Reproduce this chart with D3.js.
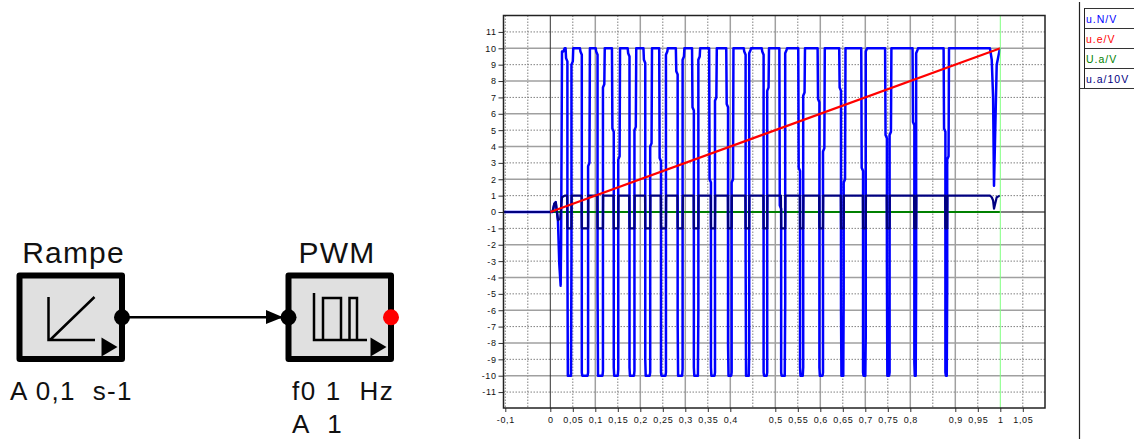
<!DOCTYPE html>
<html>

<head>
  <meta charset="utf-8">
  <title>Rampe PWM</title>
  <style>
    body { margin: 0; background: #fff; }
    svg { display: block; }
    text { font-family: "Liberation Sans", Arial, sans-serif; }
  </style>
</head>

<body>
  <svg></svg>
  <script src="https://d3js.org/d3.v7.min.js"></script>
  <script>
    const seriesNames = ["u.N/V", "u.e/V", "U.a/V", "u.a/10V"];
    const seriesColors = ["#0000ff", "#ff0000", "#008000", "#000080"];

    const xTickValues = [-0.1, 0, 0.05, 0.1, 0.15, 0.2, 0.25, 0.3, 0.35, 0.4, 0.5, 0.55, 0.6, 0.65, 0.7, 0.75, 0.8, 0.9, 0.95, 1, 1.05];
    const xMajorGrid = [0.1, 0.2, 0.3, 0.4, 0.5, 0.6, 0.7, 0.8, 0.9];
    const xMinorGrid = [-0.1, -0.05, 0.05, 0.15, 0.25, 0.35, 0.45, 0.55, 0.65, 0.75, 0.85, 0.95, 1.05];
    const yTickValues = [11, 10, 9, 8, 7, 6, 5, 4, 3, 2, 1, 0, -1, -2, -3, -4, -5, -6, -7, -8, -9, -10, -11];

    // one entry per low pulse of the PWM output, outer edges of the drawn pulse
    const pulseFall = [.036, .068, .103, .139, .174, .209, .244, .281, .317, .355, .393, .432, .472, .511, .553, .596, .644, .693, .746, .807, .876];
    const pulseRise = [.049, .086, .119, .153, .189, .224, .259, .296, .331, .368, .405, .444, .484, .524, .564, .608, .654, .703, .756, .815, .884];
    const fallKneeHigh = [9.4, 9.8, 9.8, 5.1, 9.7, 9.3, 3.3, 8.6, 6.4, 2, 6.6, 9.8, 9.8, 0.4, 2.7, 6.9, 7.6, 2.7, 4.7, 5.5, 5.1];
    const fallKneeLow = [-2, -9.8, -4.5, -9.5, -9.5, -9, -9.8, -6.7, -9.5, -9.5, -8.1, -2.3, -9.8, -9.8, -9.5, -9.5, -5.9, -9.8, -3, -9.2, -9.8];
    const riseKneeLow = [-2.6, -9.8, -9.7, -9.6, -9.7, -9.8, -9.8, -9.6, -6, -9.8, -9.8, -8.7, -9.8, -5.6, -9.5, -9.8, -4.8, -7.6, -9.8, -4.2, -4.5];
    const riseKneeHigh = [9, 2.8, 7.6, 3.2, 5, 4, 9.6, 9.3, 9.3, 6.8, 1.8, 9.7, 7.4, 9.7, 7.1, 3.7, 1.8, 9.8, 4.7, 9.7, 3.2];

    // start-up wobble and the last dip before t = 1
    const startTime = [-0.104, 0.005, 0.009, 0.012, 0.017, 0.018, 0.02, 0.023, 0.024, 0.026, 0.029, 0.032];
    const startVolt = [0, 0, 0.5, 0.6, -0.5, -1.4, -3.2, -4.5, -2, 9.8, 9.8, 10];
    const endTime = [.977, .981, .984, .986, .992, .9993];
    const endVolt = [10, 9.3, 7, 1.6, 9, 10];

    const uaStartTime = [-0.104, 0.005, 0.009, 0.012, 0.017, 0.022, 0.026, 0.032];
    const uaStartVolt = [0, 0, 0.5, 0.6, -0.5, -0.4, 0.9, 1];
    const uaEndTime = [.977, .981, .984, .986, .992, .9993];
    const uaEndVolt = [1, 0.9, 0.7, 0.2, 0.9, 1];

    const ueTime = [0, 1];
    const ueVolt = [0, 10];
    const UaTime = [-0.104, 1];
    const UaVolt = [0, 0];

    const width = 1134;
    const height = 439;
    const frame = { left: 503.5, right: 1045, top: 15.5, bottom: 408 };
    const inset = 0.002;
    const jog = 0.003;

    const x = d3.scaleLinear([0, 1], [550.3, 1000.3]);
    const y = d3.scaleLinear([-10, 10], [375.7, 48.3]);
    const line = d3.line().x(d => x(d[0])).y(d => y(d[1]));

    const svg = d3.select("svg")
      .attr("width", width)
      .attr("height", height)
      .attr("viewBox", [0, 0, width, height]);

    // grid
    const grid = svg.append("g").attr("fill", "none");
    grid.selectAll(".xmin").data(xMinorGrid).join("line")
      .attr("x1", d => x(d)).attr("x2", d => x(d))
      .attr("y1", frame.top).attr("y2", frame.bottom)
      .attr("stroke", "#808080").attr("stroke-dasharray", "1.5 1.5");
    grid.selectAll(".xmaj").data(xMajorGrid).join("line")
      .attr("x1", d => x(d)).attr("x2", d => x(d))
      .attr("y1", frame.top).attr("y2", frame.bottom)
      .attr("stroke", "#a0a0a0").attr("stroke-width", 1.5);
    grid.selectAll(".y").data(yTickValues.filter(d => d !== 0)).join("line")
      .attr("x1", frame.left).attr("x2", frame.right)
      .attr("y1", d => y(d)).attr("y2", d => y(d))
      .attr("stroke", d => d % 2 === 0 ? "#a0a0a0" : "#808080")
      .attr("stroke-width", d => d % 2 === 0 ? 1.5 : 1)
      .attr("stroke-dasharray", d => d % 2 === 0 ? null : "1.5 1.5");
    grid.append("line")
      .attr("x1", x(0)).attr("x2", x(0)).attr("y1", frame.top).attr("y2", frame.bottom)
      .attr("stroke", "#333");
    grid.append("line")
      .attr("x1", frame.left).attr("x2", frame.right).attr("y1", y(0)).attr("y2", y(0))
      .attr("stroke", "#000");

    // axes
    const xAxis = d3.axisBottom(x).tickValues(xTickValues).tickSize(4).tickPadding(5)
      .tickFormat(d => String(d).replace(".", ","));
    const yAxis = d3.axisLeft(y).tickValues(yTickValues).tickSize(5).tickPadding(2)
      .tickFormat(d => d);
    const gx = svg.append("g").attr("transform", `translate(0,${frame.bottom})`).call(xAxis);
    const gy = svg.append("g").attr("transform", `translate(${frame.left},0)`).call(yAxis);
    [gx, gy].forEach(g => {
      g.select(".domain").remove();
      g.selectAll("line").attr("stroke", "#333");
      g.selectAll("text").attr("font-size", 9).attr("letter-spacing", 0.6).attr("fill", "#111")
        .style("font-family", '"Liberation Sans", Arial, sans-serif');
    });

    // series
    function zip(t, v) { return t.map((d, i) => [d, v[i]]); }

    const uN = zip(startTime, startVolt);
    const ua = zip(uaStartTime, uaStartVolt);
    pulseFall.forEach((f, i) => {
      const r = pulseRise[i];
      const mid = (f + r) / 2;
      const a = Math.min(f + inset, mid);
      const b = Math.max(r - inset, mid);
      uN.push([a - jog - 0.001, 10], [a - jog, fallKneeHigh[i]], [a, fallKneeHigh[i] - 0.2], [a, fallKneeLow[i]], [a + 0.001, -10]);
      uN.push([b - 0.001, -10], [b, riseKneeLow[i]], [b, riseKneeHigh[i]], [b + jog, Math.min(riseKneeHigh[i] + 0.2, 10)], [b + jog + 0.001, 10]);
      ua.push([a - 0.0005, 1], [a, -1], [b, -1], [b + 0.0005, 1]);
    });
    uN.push(...zip(endTime, endVolt));
    ua.push(...zip(uaEndTime, uaEndVolt));

    const plot = svg.append("g").attr("fill", "none").attr("stroke-linejoin", "round");
    plot.append("path").attr("d", line(zip(UaTime, UaVolt))).attr("stroke", seriesColors[2]).attr("stroke-width", 2.2);
    plot.append("path").attr("d", line(uN)).attr("stroke", seriesColors[0]).attr("stroke-width", 2.5);
    plot.append("path").attr("d", line(ua)).attr("stroke", seriesColors[3]).attr("stroke-width", 2.2);
    plot.append("path").attr("d", line(zip(ueTime, ueVolt))).attr("stroke", seriesColors[1]).attr("stroke-width", 2.2);

    // cursor at t = 1 and frame
    svg.append("line")
      .attr("x1", x(1)).attr("x2", x(1)).attr("y1", frame.top).attr("y2", frame.bottom)
      .attr("stroke", "#80ff80");
    svg.append("rect")
      .attr("x", frame.left).attr("y", frame.top)
      .attr("width", frame.right - frame.left).attr("height", frame.bottom - frame.top)
      .attr("fill", "none").attr("stroke", "#222").attr("stroke-width", 1.5);

    // legend table
    const legend = svg.append("g");
    legend.append("line").attr("x1", 1079.5).attr("x2", 1079.5).attr("y1", 2).attr("y2", height)
      .attr("stroke", "#222").attr("stroke-width", 1.2);
    legend.append("line").attr("x1", 1084.5).attr("x2", 1084.5).attr("y1", 8).attr("y2", 88)
      .attr("stroke", "#222");
    legend.selectAll(".rule").data([8.5, 28.5, 48.5, 68.5, 88.5]).join("line")
      .attr("x1", (d, i) => i === 4 ? 1079.5 : 1084.5).attr("x2", width)
      .attr("y1", d => d).attr("y2", d => d)
      .attr("stroke", "#333");
    legend.selectAll("text").data(seriesNames).join("text")
      .attr("x", 1086).attr("y", (d, i) => 22.5 + i * 20)
      .attr("font-size", 10.5).attr("letter-spacing", 1)
      .attr("fill", (d, i) => seriesColors[i])
      .text(d => d);

    // block diagram
    const blockNames = ["Rampe", "PWM"];
    const blockLeft = [19.5, 288.5];
    const blockCaption = [["A 0,1  s-1"], ["f0 1  Hz", "A  1"]];
    const blockWidth = 102.5;
    const blockTop = 275.5;
    const blockHeight = 83.5;
    const wireY = 317.3;

    const diagram = svg.append("g");
    diagram.append("line").attr("x1", 122).attr("x2", 288).attr("y1", wireY).attr("y2", wireY)
      .attr("stroke", "#000").attr("stroke-width", 2.4);
    diagram.selectAll(".block").data(blockNames).join("rect")
      .attr("x", (d, i) => blockLeft[i]).attr("y", blockTop)
      .attr("width", blockWidth).attr("height", blockHeight)
      .attr("fill", "#e0e0e0").attr("stroke", "#000").attr("stroke-width", 6)
      .attr("stroke-linejoin", "round");
    diagram.selectAll(".name").data(blockNames).join("text")
      .attr("x", (d, i) => i === 0 ? 73.5 : 337).attr("y", 263)
      .attr("text-anchor", "middle").attr("font-size", 30).attr("letter-spacing", 1.2).attr("fill", "#111")
      .text(d => d);
    blockCaption.forEach((rows, i) => {
      diagram.selectAll(".cap" + i).data(rows).join("text")
        .attr("x", i === 0 ? 10 : 292).attr("y", (d, j) => 400 + j * 33)
        .attr("font-size", 26).attr("letter-spacing", i === 0 ? 1.3 : 1.6).attr("fill", "#111")
        .attr("xml:space", "preserve").style("white-space", "pre")
        .text(d => d);
    });
    // icons
    const icon = diagram.append("g").attr("fill", "none").attr("stroke", "#000").attr("stroke-width", 2.5);
    icon.append("path").attr("d", "M48.5,297V340H95M50,340L94.5,297");
    icon.append("path").attr("d", "M314,293V340H367M323,340V298H341V340M349.5,340V298H357V340");
    diagram.selectAll(".out").data(blockLeft).join("path")
      .attr("d", d => `M${d + 82},337.5L${d + 98},347L${d + 82},356.5Z`)
      .attr("fill", "#000");
    diagram.append("path").attr("d", `M266,310L283,${wireY}L266,324Z`).attr("fill", "#000");
    diagram.selectAll(".port").data([[122, "#000"], [288.5, "#000"], [391, "#ff0000"]]).join("circle")
      .attr("cx", d => d[0]).attr("cy", wireY).attr("r", 8).attr("fill", d => d[1]);
  </script>
</body>

</html>
